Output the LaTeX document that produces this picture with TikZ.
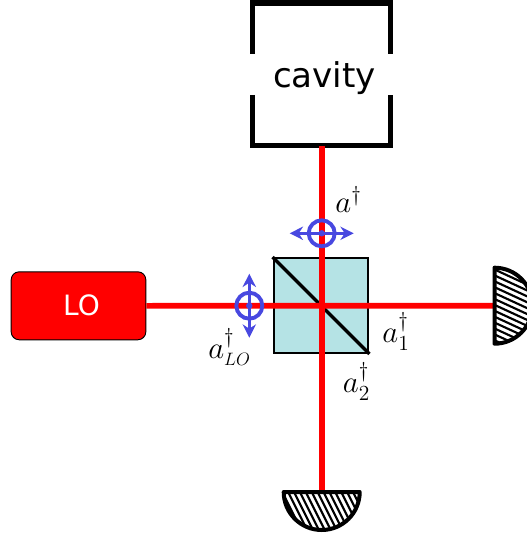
\documentclass[tikz,border=0pt]{standalone}
\usepackage{amsmath, amsfonts, amssymb}
\usepackage{fontspec}
\newfontfamily\labelfont{DejaVu Sans}
\usetikzlibrary{arrows.meta}
\usetikzlibrary{calc}

\definecolor{cubecolor}{HTML}{B5E3E5}
\definecolor{spincolor}{HTML}{4848E0}

\tikzset{
  beam/.style={draw=red, line width=4.2pt},
  spin/.style={draw=spincolor, line width=2.9pt},
  spinarrow/.style={spin, line width=2.2pt, {Stealth[length=10pt, width=10pt]}-{Stealth[length=10pt, width=10pt]}},
  wall/.style={draw=black, line width=4pt},
  detector/.style={draw=black, line width=3pt, line join=round},
  hatch/.style={draw=black, line width=1.6pt},
  ladder/.style={inner sep=0pt, font=\huge, scale=1.12}
}

\begin{document}
\begin{tikzpicture}[x=0.75pt, y=-0.75pt]

        \useasboundingbox (0, 0) rectangle (527, 538);
        \clip (0, 0) rectangle (527, 538);

        % Radius of the detectors
        \def\radius{38}

        % Distance between hatch lines
        \def\hstep{5.9}

        % Beam splitter
        \node (cube) at (321, 305.5) [draw=black, fill=cubecolor, line width=1.6pt, minimum size=71pt, inner sep=0pt] {};
        \draw[line width=2.4pt] (cube.north west) -- (cube.south east);

        % Cavity walls
        \draw[wall] (252.5, 54) |- (390.5, 3) -- (390.5, 54);
        \draw[wall] (252.5, 95) |- (390.5, 145.5) -- (390.5, 95);
        \node (cavity) at (324.5, 78) [inner sep=0pt, text=black, font=\labelfont\fontsize{25.6}{30}\selectfont] {cavity};
        \coordinate (cavend) at (321.7, 146);

        % Local oscillator
        \node (lo) at (78.5, 305.8) [draw=black, fill=red, rounded corners=6pt, line width=0.7pt, minimum width=101pt, minimum height=51pt, inner sep=0pt, text=white, font=\labelfont\fontsize{21}{25}\selectfont] {\hspace*{4.5pt}LO};

        % Detector ends
        \coordinate (detright) at (494.5, 305.7);
        \coordinate (detbottom) at (321.7, 492);

        % Beams
        \coordinate (cross) at (321.7, 305.7);
        \draw[beam] (lo.east) -- (detright);
        \draw[beam] (cavend) -- (detbottom);

        % Right detector
        \begin{scope}
          \clip (detright) ++(0, -\radius) arc (-90:90:\radius) -- cycle;
          \foreach \i in {-10,...,10} {
            \draw[hatch] ($(detright) + (-10, \i*\hstep) + (-40, -18)$) -- ($(detright) + (-10, \i*\hstep) + (90, 42)$);
          }
        \end{scope}
        \draw[detector] (detright) ++(0, -\radius) arc (-90:90:\radius) -- cycle;

        % Bottom detector
        \begin{scope}
          \clip (detbottom) ++(-\radius, 0) arc (180:0:\radius) -- cycle;
          \foreach \i in {-10,...,10} {
            \draw[hatch] ($(detbottom) + (\i*\hstep, 0) + (-20, -20)$) -- ($(detbottom) + (\i*\hstep, 0) + (20, 60)$);
          }
        \end{scope}
        \draw[detector] (detbottom) ++(-\radius, 0) arc (180:0:\radius) -- cycle;

        % Polarisation marks
        \coordinate (spina) at (321.7, 233.3);
        \coordinate (spinlo) at (249.3, 305.7);

        \draw[spin] (spina) circle (13);
        \fill[spincolor] (spina) circle (3.2);
        \draw[spinarrow] ($(spina) + (-32, 0)$) -- ($(spina) + (32, 0)$);

        \draw[spin] (spinlo) circle (13);
        \fill[spincolor] (spinlo) circle (3.2);
        \draw[spinarrow] ($(spinlo) + (0, -32)$) -- ($(spinlo) + (0, 32)$);

        % Labels
        \node (adag) at (348.5, 199.5) [ladder] {$a^\dagger$};
        \node (adaglo) at (229.5, 347) [ladder] {$a^\dagger_{\scriptscriptstyle LO}$};
        \node (adagone) at (396, 331.5) [ladder] {$a^\dagger_1$};
        \node (adagtwo) at (356.5, 381.5) [ladder] {$a^\dagger_2$};

      \end{tikzpicture}
\end{document}
